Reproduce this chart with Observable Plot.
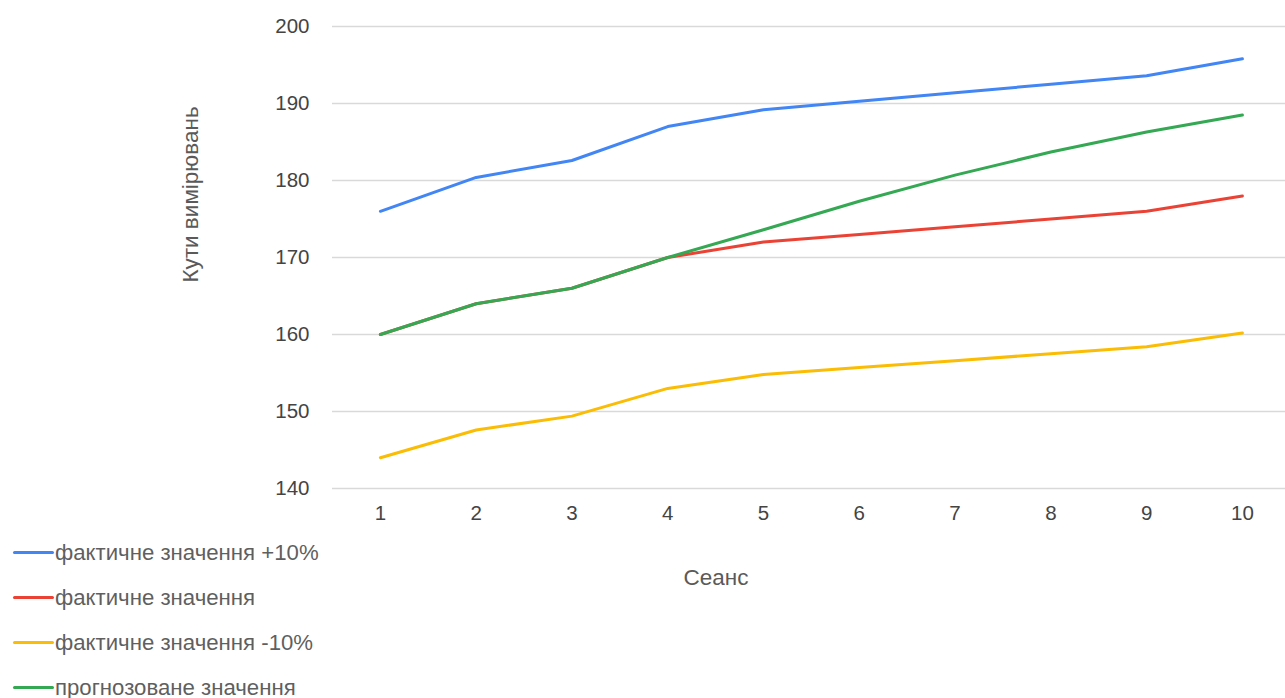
<!DOCTYPE html>
<html>
<head>
<meta charset="utf-8">
<script src="https://cdn.jsdelivr.net/npm/d3@7"></script>
<script src="https://cdn.jsdelivr.net/npm/@observablehq/plot@0.6"></script>
<style>
  html, body { margin: 0; padding: 0; background: #fff; }
  #chart { position: relative; width: 1285px; height: 698px; font-family: "Liberation Sans", Arial, sans-serif; }
  #legend { position: absolute; left: 13px; top: 530px; }
  .item { display: flex; align-items: center; height: 45px; margin: 0; }
  .swatch { width: 41px; height: 3.5px; border-radius: 2px; margin-right: 1px; }
  .label { font-size: 22.2px; color: #5f5f5f; white-space: nowrap; }
</style>
</head>
<body>
<div id="chart"><div id="legend"></div></div>
<script>
// Measured angles per session
const sessions = [1, 2, 3, 4, 5, 6, 7, 8, 9, 10];
const actual   = [160, 164, 166, 170, 172, 173, 174, 175, 176, 178];
const plus10   = [176, 180.4, 182.6, 187, 189.2, 190.3, 191.4, 192.5, 193.6, 195.8];
const minus10  = [144, 147.6, 149.4, 153, 154.8, 155.7, 156.6, 157.5, 158.4, 160.2];
const forecast = [160, 164, 166, 170, 173.6, 177.3, 180.7, 183.7, 186.3, 188.5];
const yTicks = [140, 150, 160, 170, 180, 190, 200];

const seriesNames = [
  "фактичне значення +10%",
  "фактичне значення",
  "фактичне значення -10%",
  "прогнозоване значення"
];
const seriesValues = [plus10, actual, minus10, forecast];
const colors = ["#4285f4", "#ea4335", "#fbbc04", "#34a853"];

// Long table: one row per session per series, in drawing order
const rows = seriesNames.flatMap((name, i) =>
  sessions.map((s, j) => ({series: name, session: s, value: seriesValues[i][j]}))
);

const chart = Plot.plot({
  width: 1285,
  height: 698,
  marginTop: 26,
  marginBottom: 210,
  marginLeft: 332,
  marginRight: 0,
  style: {fontFamily: "'Liberation Sans', Arial, sans-serif", fontSize: "20.5px", color: "#444", background: "#fff"},
  x: {domain: [0.5, 10.45], ticks: sessions},
  y: {domain: [140, 200], ticks: yTicks},
  color: {domain: seriesNames, range: colors},
  marks: [
    Plot.gridY(yTicks, {stroke: "#d9d9d9", strokeOpacity: 1, strokeWidth: 1.5}),
    Plot.axisY(yTicks, {tickSize: 0, tickPadding: 23, label: null, fill: "#444"}),
    Plot.axisX(sessions, {tickSize: 0, tickPadding: 17, label: null, fill: "#444"}),
    Plot.text(["Сеанс"], {frameAnchor: "bottom", dx: -93, dy: 89, lineAnchor: "middle", fill: "#5a5a5a", fontSize: 22.5}),
    Plot.text(["Кути вимірювань"], {frameAnchor: "left", textAnchor: "middle", lineAnchor: "middle", rotate: -90, dx: -142, dy: -63, fill: "#5a5a5a", fontSize: 22.5}),
    Plot.line(rows, {x: "session", y: "value", z: "series", stroke: "series", strokeWidth: 3, curve: "linear"})
  ]
});

const root = document.getElementById("chart");
root.insertBefore(chart, root.firstChild);

// Legend below the plot, one row per series
const legend = d3.select("#legend");
seriesNames.forEach((name, i) => {
  const item = legend.append("div").attr("class", "item");
  item.append("div").attr("class", "swatch").style("background", colors[i]);
  item.append("span").attr("class", "label").text(name);
});
</script>
</body>
</html>
